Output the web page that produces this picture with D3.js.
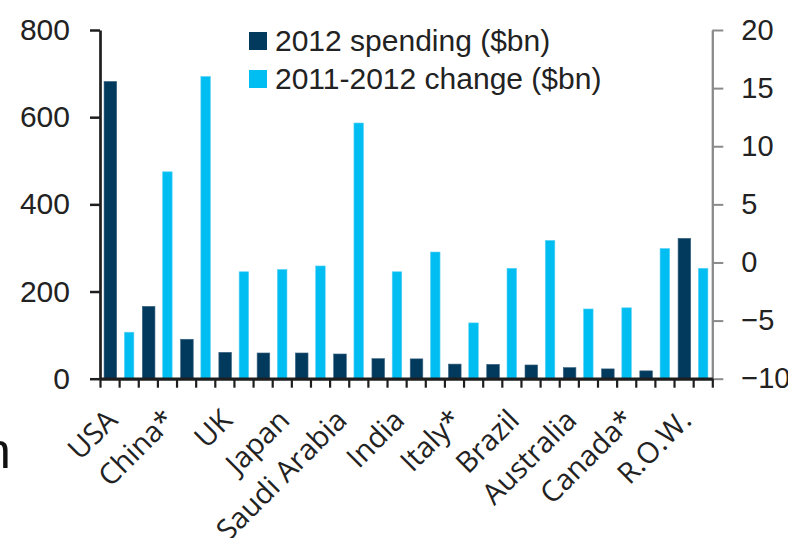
<!DOCTYPE html>
<html>
<head>
<meta charset="utf-8">
<script src="https://cdn.jsdelivr.net/npm/d3@7"></script>
<style>
  body { margin: 0; background: #fff; }
  svg { display: block; }
  .tick text { fill: #222; }
</style>
</head>
<body>
<svg id="chart" width="788" height="538"></svg>
<script>
// top 15 spenders + rest of world, one dark + one light slot each
const countries = ["USA", "China*", "Russia", "UK", "Japan", "France", "Saudi Arabia", "India",
                   "Germany", "Italy*", "Brazil", "South Korea", "Australia", "Canada*", "Turkey", "R.O.W."]
const spending = [682, 166, 90.5, 60.5, 59, 59, 56.7, 46, 45.5, 33.5, 33, 31.5, 25.5, 22.5, 18, 322]
const change = [-6.0, 7.8, 16.0, -0.8, -0.6, -0.3, 12.0, -0.8, 0.9, -5.2, -0.5, 1.9, -4.0, -3.9, 1.2, -0.5]

// excel only printed every third category label
const tickLabels = ["USA", "China*", "UK", "Japan", "Saudi Arabia", "India", "Italy*", "Brazil",
                    "Australia", "Canada*", "R.O.W."]
const leftTicks = [0, 200, 400, 600, 800]
const rightTicks = [-10, -5, 0, 5, 10, 15, 20]
const seriesNames = ["2012 spending ($bn)", "2011-2012 change ($bn)"]
const seriesColors = ["#023a5e", "#00bdf2"]

const svg = d3.select("#chart")
const numFont = "'Liberation Sans', Arial, Helvetica, sans-serif"

const nSlots = countries.length * 2
const x = d3.scaleLinear().domain([0, nSlots]).range([100, 712.3])
const yL = d3.scaleLinear().domain([0, 800]).range([378.7, 30])
const yR = d3.scaleLinear().domain([-10, 20]).range([378.7, 30])
const slotW = x(1) - x(0)

const D = countries.map((c, i) => ({ name: c, spend: spending[i], change: change[i], i: i }))

// bars
svg.append("g").selectAll("rect.spend")
    .data(D).enter().append("rect")
    .attr("class", "spend")
    .attr("x", d => x(2 * d.i + 0.5) - slotW * 0.33 + 0.8)
    .attr("width", slotW * 0.66)
    .attr("y", d => yL(d.spend))
    .attr("height", d => yL(0) - yL(d.spend))
    .attr("fill", seriesColors[0])
    .attr("stroke", "#3d6583")
    .attr("stroke-width", 0.6)

svg.append("g").selectAll("rect.change")
    .data(D).enter().append("rect")
    .attr("class", "change")
    .attr("x", d => x(2 * d.i + 1.5) - slotW * 0.25 + 0.4)
    .attr("width", slotW * 0.5)
    .attr("y", d => yR(d.change))
    .attr("height", d => yR(-10) - yR(d.change))
    .attr("fill", seriesColors[1])
    .attr("stroke", "#5fd3f5")
    .attr("stroke-width", 0.6)

// left axis
const gL = svg.append("g")
    .attr("transform", "translate(" + x(0) + ",0)")
    .call(d3.axisLeft(yL).tickValues(leftTicks).tickSize(10).tickSizeOuter(0).tickPadding(20))
gL.select(".domain").attr("stroke", "#1e1e1e").attr("stroke-width", 2.7)
gL.selectAll(".tick line").attr("stroke", "#1e1e1e").attr("stroke-width", 2.5)
gL.selectAll(".tick text").attr("font-family", numFont).attr("font-size", 30)

// right axis
const gR = svg.append("g")
    .attr("transform", "translate(" + x(nSlots) + ",0)")
    .call(d3.axisRight(yR).tickValues(rightTicks).tickSize(11).tickSizeOuter(0).tickPadding(18))
gR.select(".domain").attr("stroke", "#8a8a8a").attr("stroke-width", 2.3)
gR.selectAll(".tick line").attr("stroke", "#8a8a8a").attr("stroke-width", 2)
gR.selectAll(".tick text").attr("font-family", numFont).attr("font-size", 29)

// category axis with a tick on every slot boundary
const gB = svg.append("g")
    .attr("transform", "translate(0," + yL(0) + ")")
    .call(d3.axisBottom(x).tickValues(d3.range(0, nSlots + 1)).tickSize(9).tickSizeOuter(0).tickFormat(""))
gB.select(".domain").attr("stroke", "#1e1e1e").attr("stroke-width", 3.3)
gB.selectAll(".tick line").attr("stroke", "#1e1e1e").attr("stroke-width", 2.2)

svg.append("g").selectAll("text")
    .data(tickLabels).enter().append("text")
    .attr("transform", (d, k) => "translate(" + x(3 * k + 1) + ",422) rotate(-45)")
    .attr("text-anchor", "end")
    .attr("font-family", "'Open Sans', 'Noto Sans', sans-serif")
    .attr("font-size", 29)
    .attr("fill", "#222")
    .text(d => d)

// legend
const leg = svg.append("g").selectAll("g")
    .data(seriesNames).enter().append("g")
    .attr("transform", (d, i) => "translate(249," + (32 + i * 38) + ")")
leg.append("rect")
    .attr("width", 18).attr("height", 18)
    .attr("fill", (d, i) => seriesColors[i])
leg.append("text")
    .attr("x", 26).attr("y", 19)
    .attr("font-family", numFont)
    .attr("font-size", 30)
    .attr("fill", "#222")
    .text(d => d)

// clipped letter from the surrounding page
svg.append("text")
    .attr("x", -17).attr("y", 468)
    .attr("font-family", numFont)
    .attr("font-size", 50)
    .attr("fill", "#111")
    .text("n")
</script>
</body>
</html>
